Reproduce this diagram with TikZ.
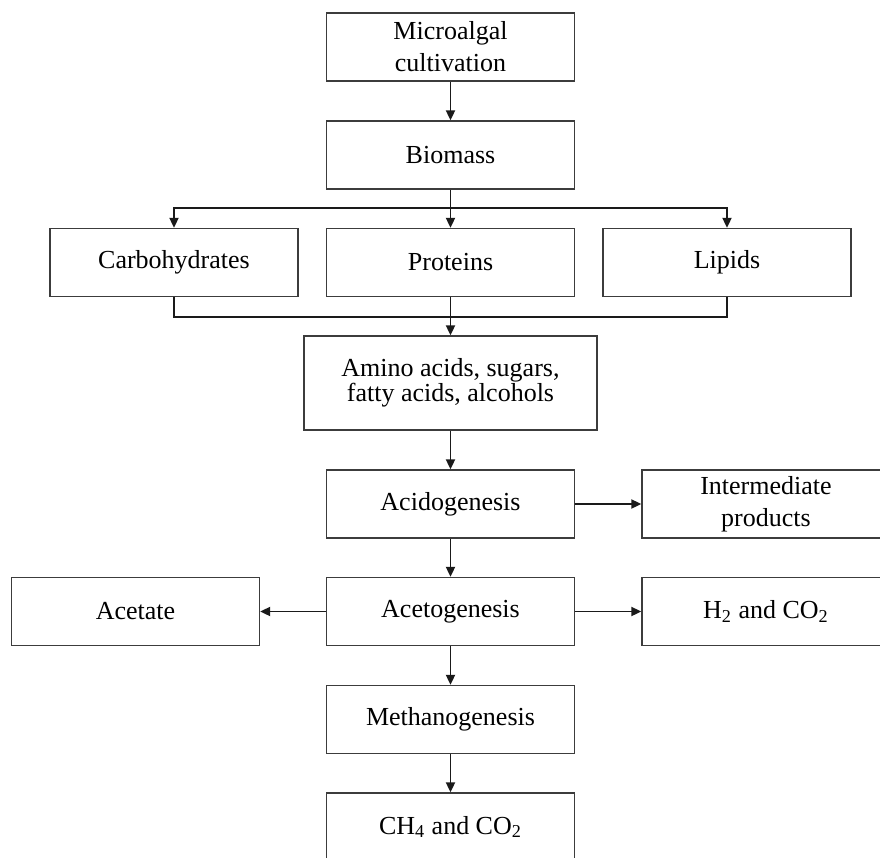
\documentclass[tikz,border=0pt]{standalone}
\usepackage{fontspec}
\setmainfont{Liberation Serif}
\usetikzlibrary{arrows.meta,positioning,calc}
\definecolor{Ink}{HTML}{1A1A1A}

\tikzset{
  stage/.style={draw=Ink!85,line width=0.65pt,minimum width=124pt,minimum height=34pt,inner sep=0pt,align=center,font=\fontsize{13pt}{16pt}\selectfont},
  flow/.style={Ink,line width=0.9pt,-{Triangle[length=5pt,width=4.5pt]}},
  link/.style={Ink,line width=0.9pt}
}

\begin{document}
\begin{tikzpicture}[x=0.5pt,y=-0.5pt]
\clip (0,0) rectangle (880,858);
\node[stage] (cult) at (450.5,47) {Microalgal\\cultivation};
\node[stage] (bio) at (450.5,155) {Biomass};
\node[stage] (carb) at (174,262.5) {Carbohydrates};
\node[stage] (prot) at (450.5,262.5) {Proteins};
\node[stage] (lip) at (727,262.5) {Lipids};
\node[stage,minimum width=146.5pt,minimum height=47pt,font=\fontsize{13pt}{12.4pt}\selectfont] (amino) at (450.5,383) {Amino acids, sugars,\\fatty acids, alcohols};
\node[stage] (acido) at (450.5,504) {Acidogenesis};
\node[stage] (inter) at (766,504) {Intermediate\\products};
\node[stage] (aceto) at (450.5,611.5) {Acetogenesis};
\node[stage] (acet) at (135.5,611.5) {Acetate};
\node[stage] (gas) at (766,611.5) {H\textsubscript{2} and CO\textsubscript{2}};
\node[stage] (metha) at (450.5,719.5) {Methanogenesis};
\node[stage] (biogas) at (450.5,827) {CH\textsubscript{4} and CO\textsubscript{2}};
\coordinate (split) at (450.5,208);
\coordinate (join) at (450.5,317);
\draw[flow] (cult) -- (bio);
\draw[flow] (bio) -- (prot);
\draw[flow] (split) -| (carb.north);
\draw[flow] (split) -| (lip.north);
\draw[link] (carb.south) |- (join);
\draw[link] (lip.south) |- (join);
\draw[flow] (prot) -- (amino);
\draw[flow] (amino) -- (acido);
\draw[flow] (acido) -- (inter);
\draw[flow] (acido) -- (aceto);
\draw[flow] (aceto) -- (acet);
\draw[flow] (aceto) -- (gas);
\draw[flow] (aceto) -- (metha);
\draw[flow] (metha) -- (biogas);
\end{tikzpicture}
\end{document}
